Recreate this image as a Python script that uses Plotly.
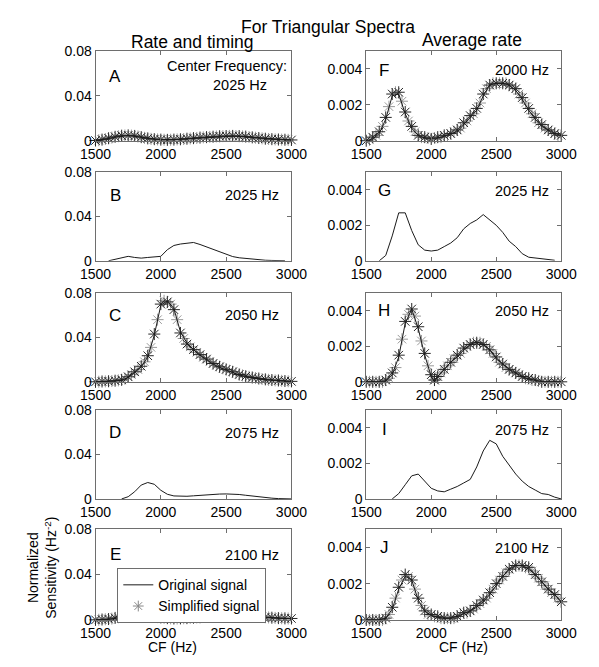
import plotly.graph_objects as go

# ---------------- data ----------------
CF = [1500, 1550, 1600, 1650, 1700, 1750, 1800, 1850, 1900, 1950, 2000,
      2050, 2100, 2150, 2200, 2250, 2300, 2350, 2400, 2450, 2500,
      2550, 2600, 2650, 2700, 2750, 2800, 2850, 2900, 2950, 3000]
CF_H = [1500, 1550, 1600, 1650, 1700, 1750, 1800, 1850, 1900, 1950, 2000, 2025,
        2050, 2100, 2150, 2200, 2250, 2300, 2350, 2400, 2450, 2500,
        2550, 2600, 2650, 2700, 2750, 2800, 2850, 2900, 2950, 3000]
CF_MID = [1525, 1575, 1625, 1675, 1725, 1775, 1825, 1875, 1925, 1975,
          2025, 2075, 2125, 2175, 2225, 2275, 2325, 2375, 2425, 2475,
          2525, 2575, 2625, 2675, 2725, 2775, 2825, 2875, 2925, 2975]

X_TICKS = [1500, 2000, 2500, 3000]
LEFT_Y_TICKS = [0, 0.04, 0.08]
LEFT_Y_TEXT = ["0", "0.04", "0.08"]
RIGHT_Y_TICKS = [0, 0.002, 0.004]
RIGHT_Y_TEXT = ["0", "0.002", "0.004"]

# Rate and timing column
A_ORIG = [0.0000, 0.0008, 0.0020, 0.0033, 0.0042, 0.0046, 0.0040, 0.0031, 0.0022, 0.0015, 0.0011,
          0.0009, 0.0011, 0.0014, 0.0017, 0.0022, 0.0026, 0.0030, 0.0034, 0.0037, 0.0039,
          0.0040, 0.0039, 0.0035, 0.0028, 0.0022, 0.0017, 0.0013, 0.0010, 0.0008, 0.0006]
A_SIMP = [0.0002, 0.0010, 0.0022, 0.0035, 0.0045, 0.0048, 0.0043, 0.0032, 0.0021, 0.0014, 0.0010,
          0.0008, 0.0010, 0.0013, 0.0018, 0.0023, 0.0028, 0.0032, 0.0036, 0.0040, 0.0042,
          0.0043, 0.0041, 0.0037, 0.0030, 0.0024, 0.0018, 0.0014, 0.0011, 0.0009, 0.0007]
A_SIMP_MID = [0.0005, 0.0015, 0.0028, 0.0040, 0.0047, 0.0046, 0.0038, 0.0026, 0.0017, 0.0012,
              0.0009, 0.0009, 0.0012, 0.0015, 0.0020, 0.0025, 0.0030, 0.0034, 0.0038, 0.0041,
              0.0043, 0.0042, 0.0039, 0.0033, 0.0027, 0.0021, 0.0016, 0.0012, 0.0010, 0.0008]
B_ORIG = [None, None, 0.0000, 0.0012, 0.0030, 0.0040, 0.0030, 0.0024, 0.0030, 0.0035, 0.0040,
          0.0100, 0.0138, 0.0151, 0.0160, 0.0165, 0.0147, 0.0125, 0.0105, 0.0078, 0.0055,
          0.0038, 0.0027, 0.0020, 0.0014, 0.0008, 0.0005, 0.0003, 0.0003, 0.0001, None]
C_ORIG = [0.0000, 0.0002, 0.0004, 0.0008, 0.0015, 0.0040, 0.0085, 0.0135, 0.0225, 0.0420, 0.0690,
          0.0730, 0.0660, 0.0450, 0.0350, 0.0290, 0.0240, 0.0200, 0.0160, 0.0130, 0.0108,
          0.0088, 0.0062, 0.0048, 0.0036, 0.0027, 0.0020, 0.0014, 0.0010, 0.0005, 0.0002]
C_SIMP = [0.0000, 0.0003, 0.0005, 0.0010, 0.0018, 0.0045, 0.0090, 0.0140, 0.0235, 0.0430, 0.0700,
          0.0720, 0.0650, 0.0440, 0.0340, 0.0290, 0.0245, 0.0205, 0.0165, 0.0135, 0.0112,
          0.0090, 0.0066, 0.0050, 0.0039, 0.0030, 0.0022, 0.0016, 0.0012, 0.0007, 0.0004]
C_SIMP_MID = [0.0001, 0.0004, 0.0007, 0.0013, 0.0028, 0.0065, 0.0110, 0.0180, 0.0310, 0.0560,
              0.0730, 0.0700, 0.0560, 0.0390, 0.0315, 0.0265, 0.0220, 0.0180, 0.0148, 0.0122,
              0.0100, 0.0078, 0.0058, 0.0045, 0.0034, 0.0025, 0.0018, 0.0013, 0.0009, 0.0005]
D_ORIG = [None, None, None, None, 0.0000, 0.0020, 0.0065, 0.0125, 0.0148, 0.0132, 0.0078,
          0.0042, 0.0027, 0.0024, 0.0024, 0.0028, 0.0033, 0.0037, 0.0041, 0.0044, 0.0045,
          0.0044, 0.0040, 0.0033, 0.0025, 0.0017, 0.0011, 0.0007, 0.0003, 0.0001, 0.0000]
E_ORIG = [0.0000, 0.0002, 0.0005, 0.0015, 0.0028, 0.0036, 0.0038, 0.0037, 0.0034, 0.0028, 0.0021,
          0.0015, 0.0012, 0.0013, 0.0015, 0.0018, 0.0022, 0.0026, 0.0031, 0.0036, 0.0040,
          0.0043, 0.0043, 0.0040, 0.0036, 0.0030, 0.0023, 0.0018, 0.0015, 0.0013, 0.0012]
E_SIMP = [0.0001, 0.0004, 0.0008, 0.0018, 0.0031, 0.0039, 0.0041, 0.0039, 0.0035, 0.0029, 0.0022,
          0.0016, 0.0013, 0.0014, 0.0016, 0.0020, 0.0024, 0.0029, 0.0034, 0.0039, 0.0043,
          0.0046, 0.0046, 0.0043, 0.0038, 0.0032, 0.0025, 0.0020, 0.0016, 0.0014, 0.0013]
E_SIMP_MID = [0.0002, 0.0006, 0.0012, 0.0024, 0.0035, 0.0040, 0.0040, 0.0037, 0.0032, 0.0025,
              0.0019, 0.0014, 0.0013, 0.0015, 0.0018, 0.0022, 0.0026, 0.0031, 0.0036, 0.0041,
              0.0045, 0.0046, 0.0045, 0.0040, 0.0035, 0.0028, 0.0022, 0.0018, 0.0015, 0.0013]

# Average rate column
F_ORIG = [0.0000, 0.0001, 0.0004, 0.0012, 0.0025, 0.0026, 0.0015, 0.0007, 0.0003, 0.00015, 0.00013,
          0.00015, 0.00025, 0.0004, 0.0005, 0.0009, 0.0013, 0.0017, 0.0025, 0.0031, 0.0032,
          0.0032, 0.0031, 0.0028, 0.0023, 0.0017, 0.0012, 0.0008, 0.0006, 0.0004, 0.0003]
F_SIMP = [0.0000, 0.0002, 0.0005, 0.0013, 0.0026, 0.0027, 0.0016, 0.0008, 0.0003, 0.0002, 0.0001,
          0.0002, 0.0003, 0.0004, 0.0006, 0.0010, 0.0014, 0.0018, 0.0026, 0.0031, 0.0032,
          0.0032, 0.0031, 0.0029, 0.0024, 0.0018, 0.0013, 0.0009, 0.0006, 0.0004, 0.0003]
F_SIMP_MID = [0.00005, 0.0003, 0.0008, 0.0019, 0.0027, 0.0022, 0.0011, 0.0005, 0.0002, 0.00015,
              0.00015, 0.0002, 0.0003, 0.0005, 0.0007, 0.0011, 0.0015, 0.0021, 0.0029, 0.0032,
              0.0032, 0.0032, 0.0030, 0.0026, 0.0021, 0.0015, 0.0010, 0.0007, 0.0005, 0.0003]
G_ORIG = [None, None, 0.0000, 0.0003, 0.0014, 0.0027, 0.0027, 0.0017, 0.0009, 0.0006, 0.00055,
          0.0006, 0.0008, 0.0010, 0.0013, 0.0018, 0.0021, 0.0023, 0.0026, 0.0023, 0.0020,
          0.0016, 0.0011, 0.0008, 0.0004, 0.0002, 0.00015, 0.0001, 0.00006, 0.00003, None]
H_ORIG = [0.0000, 0.0000, 0.0000, 0.00005, 0.0004, 0.0014, 0.0033, 0.0041, 0.0030, 0.0015, 0.0003, 0.0000,
          0.0003, 0.0007, 0.0011, 0.0014, 0.0018, 0.0021, 0.00225, 0.0021, 0.0018, 0.0013,
          0.0010, 0.0007, 0.0005, 0.0003, 0.00015, 0.0001, 0.0000, 0.0000, 0.0000, 0.0000]
H_SIMP = [0.0000, 0.0000, 0.0000, 0.0001, 0.0005, 0.0015, 0.0034, 0.0041, 0.0031, 0.0016, 0.0004, 0.0001,
          0.0003, 0.0007, 0.0011, 0.0015, 0.0019, 0.0021, 0.0022, 0.0021, 0.0018, 0.0014,
          0.0010, 0.0007, 0.0005, 0.0003, 0.0002, 0.0001, 0.0000, 0.0000, 0.0000, 0.0000]
H_SIMP_MID = [0.0000, 0.0000, 0.0000, 0.0002, 0.0008, 0.0024, 0.0038, 0.0037, 0.0023, 0.0009,
              0.0001, 0.0005, 0.0009, 0.0013, 0.0016, 0.0020, 0.0022, 0.0022, 0.0020, 0.0016,
              0.0011, 0.0008, 0.0006, 0.0004, 0.0002, 0.0001, 0.00005, 0.0000, 0.0000, 0.0000]
I_ORIG = [None, None, None, None, 0.0000, 0.0003, 0.0008, 0.0013, 0.0014, 0.0010, 0.0006,
          0.00045, 0.0004, 0.00055, 0.0007, 0.0009, 0.0011, 0.0018, 0.0027, 0.0033, 0.0031,
          0.0024, 0.0019, 0.0014, 0.0010, 0.0007, 0.0005, 0.0003, 0.00025, 0.0001, 0.0000]
J_ORIG = [0.0000, 0.0000, 0.0000, 0.0001, 0.0006, 0.0017, 0.0024, 0.0022, 0.0011, 0.0005, 0.00025,
          0.00015, 0.0001, 0.0001, 0.0002, 0.00035, 0.0005, 0.0007, 0.0010, 0.0014, 0.0019,
          0.0024, 0.0028, 0.0030, 0.0030, 0.0028, 0.0025, 0.0021, 0.0017, 0.0014, 0.0010]
J_SIMP = [0.0000, 0.0000, 0.0000, 0.0001, 0.0007, 0.0018, 0.0025, 0.0022, 0.0012, 0.0005, 0.0003,
          0.0002, 0.0001, 0.0001, 0.0002, 0.0004, 0.0005, 0.0008, 0.0011, 0.0015, 0.0020,
          0.0024, 0.0028, 0.0030, 0.0030, 0.0029, 0.0025, 0.0021, 0.0017, 0.0014, 0.0010]
J_SIMP_MID = [0.0000, 0.0000, 0.0000, 0.0003, 0.0012, 0.0022, 0.0024, 0.0017, 0.0008, 0.0003,
              0.0002, 0.0001, 0.0001, 0.0001, 0.0003, 0.0004, 0.0006, 0.0009, 0.0012, 0.0017,
              0.0022, 0.0026, 0.0029, 0.0030, 0.0029, 0.0027, 0.0023, 0.0019, 0.0015, 0.0012]

PANELS = [
    ("A", 0, 0, "2025 Hz", CF, A_ORIG, A_SIMP, A_SIMP_MID),
    ("B", 0, 1, "2025 Hz", CF, B_ORIG, None, None),
    ("C", 0, 2, "2050 Hz", CF, C_ORIG, C_SIMP, C_SIMP_MID),
    ("D", 0, 3, "2075 Hz", CF, D_ORIG, None, None),
    ("E", 0, 4, "2100 Hz", CF, E_ORIG, E_SIMP, E_SIMP_MID),
    ("F", 1, 0, "2000 Hz", CF, F_ORIG, F_SIMP, F_SIMP_MID),
    ("G", 1, 1, "2025 Hz", CF, G_ORIG, None, None),
    ("H", 1, 2, "2050 Hz", CF_H, H_ORIG, H_SIMP, H_SIMP_MID),
    ("I", 1, 3, "2075 Hz", CF, I_ORIG, None, None),
    ("J", 1, 4, "2100 Hz", CF, J_ORIG, J_SIMP, J_SIMP_MID),
]

# ---------------- layout geometry (pixels) ----------------
W, H = 599, 667
COLS = [(84, 291), (370, 576)]
ROWS = [(44, 136), (168, 259), (292, 383), (412, 503), (534, 627)]
LETTER_Y = [[70, 192, 315, 435, 560], [64, 187, 310, 432, 553]]
LETTER_X = [105, 389]
HZ_X = [249, 535]

FONT = "Arial, 'Liberation Sans', sans-serif"
AXCOL = "#6e6e6e"
MARK_DARK = "#262626"
MARK_GRAY = "#9a9a9a"


def fx(p):
    return p / W


def fy(p):
    return 1 - p / H


fig = go.Figure()
layout = {}
annotations = []

for i, (letter, col, row, hz, cf, orig, simp, simp_mid) in enumerate(PANELS):
    n = i + 1
    xname = "x" if n == 1 else f"x{n}"
    yname = "y" if n == 1 else f"y{n}"
    xkey = "xaxis" if n == 1 else f"xaxis{n}"
    ykey = "yaxis" if n == 1 else f"yaxis{n}"
    x0, x1 = COLS[col]
    top, bot = ROWS[row]
    if col == 0:
        yr, yt, ytt = [0, 0.08], LEFT_Y_TICKS, LEFT_Y_TEXT
    else:
        yr, yt, ytt = [0, 0.005], RIGHT_Y_TICKS, RIGHT_Y_TEXT

    show_leg = (letter == "A")
    if simp is not None:
        fig.add_trace(go.Scatter(
            x=CF_MID, y=simp_mid, mode="markers", xaxis=xname, yaxis=yname,
            name="Simplified signal", showlegend=False, cliponaxis=False,
            marker=dict(symbol="asterisk-open", size=10,
                        line=dict(width=1, color=MARK_GRAY), color=MARK_GRAY)))
        fig.add_trace(go.Scatter(
            x=cf, y=simp, mode="markers", xaxis=xname, yaxis=yname,
            name="Simplified signal", showlegend=False, cliponaxis=False,
            marker=dict(symbol="asterisk-open", size=10,
                        line=dict(width=1, color=MARK_DARK), color=MARK_DARK)))
    fig.add_trace(go.Scatter(
        x=cf, y=orig, mode="lines", xaxis=xname, yaxis=yname,
        name="Original signal", showlegend=show_leg, connectgaps=False,
        line=dict(color="#1a1a1a", width=1)))
    if show_leg:
        fig.add_trace(go.Scatter(
            x=[None], y=[None], mode="markers", xaxis=xname, yaxis=yname,
            name="Simplified signal", showlegend=True,
            marker=dict(symbol="asterisk-open", size=9,
                        line=dict(width=1, color="#8a8a8a"), color="#888")))

    layout[xkey] = dict(
        domain=[fx(x0), fx(x1)], range=[1500, 3000], anchor=yname,
        tickvals=X_TICKS, ticks="inside", ticklen=4, tickcolor=AXCOL,
        showline=True, linecolor=AXCOL, linewidth=1, mirror="ticks",
        showgrid=False, zeroline=False,
        tickfont=dict(family=FONT, size=14, color="black"))
    layout[ykey] = dict(
        domain=[fy(bot), fy(top)], range=yr, anchor=xname,
        tickvals=yt, ticktext=ytt, ticks="inside", ticklen=4, tickcolor=AXCOL,
        showline=True, linecolor=AXCOL, linewidth=1, mirror="ticks",
        showgrid=False, zeroline=False,
        tickfont=dict(family=FONT, size=14, color="black"))

    ly = LETTER_Y[col][row]
    annotations.append(dict(x=fx(LETTER_X[col]), y=fy(ly), xref="paper", yref="paper",
                            text=letter, showarrow=False, xanchor="center", yanchor="middle",
                            font=dict(family=FONT, size=17, color="black")))
    if letter == "A":
        annotations.append(dict(x=fx(288), y=fy(59), xref="paper", yref="paper",
                                text="Center Frequency:", showarrow=False,
                                xanchor="right", yanchor="middle",
                                font=dict(family=FONT, size=14.5, color="black")))
        annotations.append(dict(x=fx(237), y=fy(79), xref="paper", yref="paper",
                                text=hz, showarrow=False, xanchor="center", yanchor="middle",
                                font=dict(family=FONT, size=14.5, color="black")))
    else:
        annotations.append(dict(x=fx(HZ_X[col]), y=fy(ly), xref="paper", yref="paper",
                                text=hz, showarrow=False, xanchor="center", yanchor="middle",
                                font=dict(family=FONT, size=14.5, color="black")))

# titles
annotations.append(dict(x=fx(330), y=fy(19), xref="paper", yref="paper",
                        text="For Triangular Spectra", showarrow=False,
                        xanchor="center", yanchor="middle",
                        font=dict(family=FONT, size=17.5, color="black")))
annotations.append(dict(x=fx(186), y=fy(35), xref="paper", yref="paper",
                        text="Rate and timing", showarrow=False,
                        xanchor="center", yanchor="middle",
                        font=dict(family=FONT, size=17.5, color="black")))
annotations.append(dict(x=fx(482), y=fy(33), xref="paper", yref="paper",
                        text="Average rate", showarrow=False,
                        xanchor="center", yanchor="middle",
                        font=dict(family=FONT, size=17.5, color="black")))
# axis titles
annotations.append(dict(x=fx(165), y=fy(655), xref="paper", yref="paper",
                        text="CF (Hz)", showarrow=False, xanchor="center", yanchor="middle",
                        font=dict(family=FONT, size=14, color="black")))
annotations.append(dict(x=fx(473), y=fy(655), xref="paper", yref="paper",
                        text="CF (Hz)", showarrow=False, xanchor="center", yanchor="middle",
                        font=dict(family=FONT, size=14, color="black")))
annotations.append(dict(x=fx(28), y=fy(574), xref="paper", yref="paper",
                        text="Normalized<br>Sensitivity (Hz<sup>-2</sup>)", showarrow=False,
                        textangle=-90, xanchor="center", yanchor="middle",
                        font=dict(family=FONT, size=14, color="black")))

fig.update_layout(
    width=W, height=H, margin=dict(l=0, r=0, t=0, b=0),
    paper_bgcolor="white", plot_bgcolor="white",
    annotations=annotations,
    legend=dict(x=fx(107), y=fy(574), xanchor="left", yanchor="top",
                bgcolor="white", bordercolor=AXCOL, borderwidth=1,
                font=dict(family=FONT, size=14, color="black"),
                tracegroupgap=0, itemwidth=30),
    **layout,
)

fig.write_html("out.html")
